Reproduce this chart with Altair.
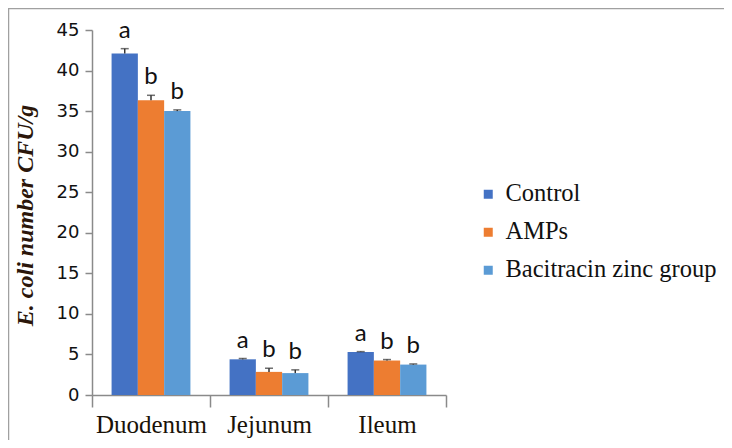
import altair as alt
import pandas as pd

segments = ["Duodenum", "Jejunum", "Ileum"]
series = ["Control", "AMPs", "Bacitracin zinc group"]
colors = ["#4472C4", "#ED7D31", "#5B9BD5"]

control = [42.1, 4.4, 5.3]
amps = [36.35, 2.85, 4.25]
bacitracin = [35.0, 2.7, 3.75]

err_control = [0.6, 0.1, 0.05]
err_amps = [0.6, 0.45, 0.12]
err_bacitracin = [0.15, 0.4, 0.08]

let_control = ["a", "a", "a"]
let_amps = ["b", "b", "b"]
let_bacitracin = ["b", "b", "b"]

rows = []
for vals, errs, lets, s in [(control, err_control, let_control, series[0]),
                            (amps, err_amps, let_amps, series[1]),
                            (bacitracin, err_bacitracin, let_bacitracin, series[2])]:
    for seg, v, e, l in zip(segments, vals, errs, lets):
        rows.append({"segment": seg, "series": s, "value": v, "top": v + e, "letter": l})
df = pd.DataFrame(rows)

x_enc = alt.X("segment:N", sort=segments,
              scale=alt.Scale(paddingInner=0, paddingOuter=0),
              axis=alt.Axis(title=None, labelAngle=0, tickBand="extent", tickSize=12,
                            labelPadding=5))
xo_enc = alt.XOffset("series:N", sort=series,
                     scale=alt.Scale(paddingOuter=0.745, paddingInner=0))

base = alt.Chart(df)

bars = base.mark_bar().encode(
    x=x_enc,
    xOffset=xo_enc,
    y=alt.Y("value:Q", scale=alt.Scale(domain=[0, 45], nice=False),
            axis=alt.Axis(values=list(range(0, 46, 5)), grid=False, tickSize=7,
                          labelPadding=6,
                          title="E. coli number CFU/g", titleX=-67, titleY=185, titleAngle=-90,
                          titleAlign="center", titleBaseline="middle")),
    color=alt.Color("series:N", sort=series,
                    scale=alt.Scale(domain=series, range=colors),
                    legend=alt.Legend(title=None, orient="none", legendX=384, legendY=152,
                                      symbolType="square", symbolSize=81, symbolStrokeWidth=0,
                                      labelFont="Liberation Serif", labelFontSize=24.5,
                                      labelColor="#111", labelOffset=5, rowPadding=13,
                                      labelLimit=400)),
)

err_rule = base.mark_rule(color="#333", strokeWidth=1.5).encode(
    x=alt.X("segment:N", sort=segments),
    xOffset=alt.XOffset("series:N", sort=series),
    y="value:Q",
    y2="top:Q",
)

err_cap = base.mark_tick(color="#333", thickness=1.5, size=8, orient="horizontal").encode(
    x=alt.X("segment:N", sort=segments),
    xOffset=alt.XOffset("series:N", sort=series),
    y="top:Q",
)

letters = base.mark_text(font="Lato", fontSize=24, color="#111", baseline="bottom", dy=-6).encode(
    x=alt.X("segment:N", sort=segments),
    xOffset=alt.XOffset("series:N", sort=series),
    y="top:Q",
    text="letter:N",
)

one = pd.DataFrame({"k": [0]})
frame_left = alt.Chart(one).mark_rule(stroke="#a0a0a0", strokeWidth=1.5, clip=False).encode(
    x=alt.value(-83.5), y=alt.value(-22), y2=alt.value(430)
)
frame_top = alt.Chart(one).mark_rule(stroke="#a0a0a0", strokeWidth=1.5, clip=False).encode(
    x=alt.value(-84), x2=alt.value(660), y=alt.value(-21.5)
)

chart = alt.layer(frame_left, frame_top, bars, err_rule, err_cap, letters).properties(
    width=354, height=365,
    autosize=alt.AutoSizeParams(type="none"),
    padding={"left": 84, "top": 22, "right": 278, "bottom": 45},
).configure_view(stroke=None).configure_axisX(
    labelFont="Liberation Serif", labelFontSize=25, labelColor="#1a1208",
    domainColor="#8a8a8a", tickColor="#8a8a8a", domainWidth=1.5, tickWidth=1.5,
).configure_axisY(
    labelFont="DejaVu Sans", labelFontSize=18, labelColor="#111",
    domainColor="#8a8a8a", tickColor="#8a8a8a", domainWidth=1.5, tickWidth=1.5,
    titleFont="Liberation Serif", titleFontSize=24, titleFontStyle="italic",
    titleFontWeight="bold", titleColor="#2b160a",
)

chart.save("out.html", embed_options={"renderer": "svg", "actions": False})
